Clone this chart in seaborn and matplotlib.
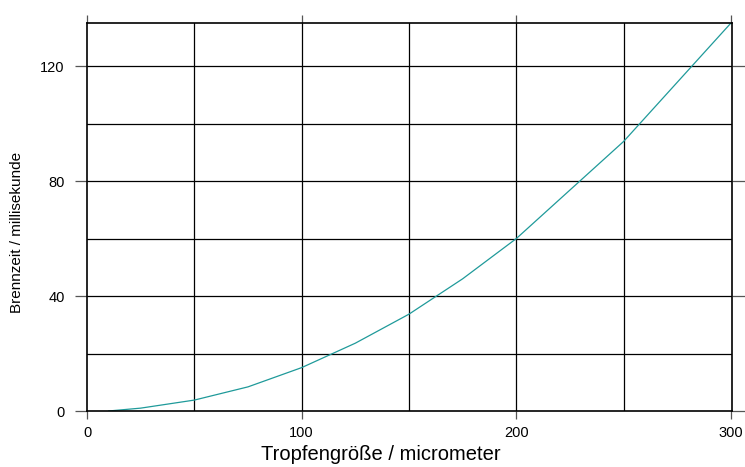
import matplotlib
matplotlib.use("Agg")
import matplotlib.pyplot as plt
import seaborn as sns
import pandas as pd

# Tropfengröße (micrometer) vs Brennzeit (millisekunde)
groesse = [10, 25, 50, 75, 100, 125, 150, 175, 200, 250, 300]
brennzeit = [0.0, 1.0, 3.8, 8.4, 15.1, 23.6, 33.7, 46.0, 60.0, 93.8, 135.0]
x_ticks = [0, 100, 200, 300]
y_ticks = [0, 40, 80, 120]

df = pd.DataFrame({"groesse": groesse, "brennzeit": brennzeit})

sns.set_style("ticks")
plt.rcParams["font.family"] = ["Liberation Sans", "DejaVu Sans"]
plt.rcParams["text.color"] = "black"
plt.rcParams["axes.labelcolor"] = "black"
plt.rcParams["xtick.labelcolor"] = "black"
plt.rcParams["ytick.labelcolor"] = "black"

fig = plt.figure(figsize=(7.45, 4.67), dpi=100)
ax = fig.add_axes([0.1168, 0.1199, 0.8658, 0.8308])

sns.lineplot(data=df, x="groesse", y="brennzeit", ax=ax, color="#1f9a9a", linewidth=0.9)

ax.set_xlim(0, 300.5)
ax.set_ylim(0, 135)

# grid every 50 / 20
for gx in range(50, 300, 50):
    ax.axvline(gx, color="black", linewidth=0.9, zorder=0)
for gy in range(20, 135, 20):
    ax.axhline(gy, color="black", linewidth=0.9, zorder=0)

ax.set_xticks(x_ticks)
ax.set_yticks(y_ticks)
ax.tick_params(axis="x", length=6, width=0.9, color="#555555", labelsize=10.5, top=True, pad=5)
ax.tick_params(axis="y", length=9, width=0.9, color="#555555", labelsize=10.5, right=True, pad=7)

for side in ["left", "right", "top", "bottom"]:
    ax.spines[side].set_visible(True)
    ax.spines[side].set_color("black")
    ax.spines[side].set_linewidth(1.2)

ax.set_xlabel("Tropfengröße / micrometer", fontsize=14.5)
ax.xaxis.set_label_coords(0.456, -0.088)
ax.set_ylabel("Brennzeit / millisekunde", fontsize=11)
ax.yaxis.set_label_coords(-0.097, 0.459)

fig.savefig("out.png", dpi=100)
